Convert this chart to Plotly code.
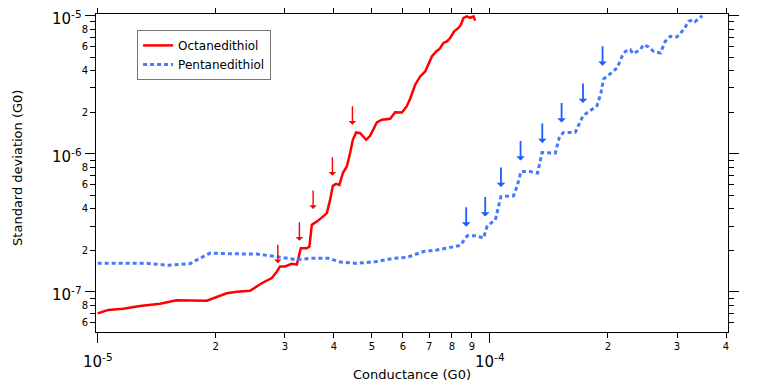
import numpy as np
import plotly.graph_objects as go

# Octanedithiol: conductance (G0) vs standard deviation (G0)
octa_g = [1.00e-5, 1.064e-5, 1.162e-5, 1.282e-5, 1.442e-5, 1.590e-5, 1.897e-5, 2.133e-5,
          2.263e-5, 2.447e-5, 2.620e-5, 2.779e-5, 2.862e-5, 2.917e-5, 3.004e-5, 3.125e-5,
          3.219e-5, 3.295e-5, 3.413e-5, 3.466e-5, 3.515e-5, 3.620e-5, 3.750e-5, 3.839e-5,
          3.914e-5, 3.976e-5, 4.054e-5, 4.133e-5, 4.217e-5, 4.317e-5, 4.401e-5, 4.472e-5,
          4.560e-5, 4.668e-5, 4.835e-5, 4.950e-5, 5.149e-5, 5.303e-5, 5.568e-5, 5.733e-5,
          5.963e-5, 6.134e-5, 6.261e-5, 6.448e-5, 6.640e-5, 6.839e-5, 7.112e-5, 7.295e-5,
          7.437e-5, 7.614e-5, 7.768e-5, 7.920e-5, 8.108e-5, 8.316e-5, 8.433e-5, 8.564e-5,
          8.736e-5, 8.907e-5, 9.082e-5, 9.173e-5]
octa_sd = [7.00e-8, 7.41e-8, 7.57e-8, 7.92e-8, 8.22e-8, 8.71e-8, 8.65e-8, 9.79e-8,
           1.005e-7, 1.02e-7, 1.156e-7, 1.26e-7, 1.40e-7, 1.53e-7, 1.53e-7, 1.60e-7,
           1.58e-7, 2.07e-7, 2.07e-7, 2.13e-7, 3.06e-7, 3.23e-7, 3.51e-7, 3.72e-7,
           4.64e-7, 5.86e-7, 6.06e-7, 5.96e-7, 7.25e-7, 8.09e-7, 1.012e-6, 1.263e-6,
           1.427e-6, 1.408e-6, 1.263e-6, 1.350e-6, 1.686e-6, 1.764e-6, 1.793e-6, 1.998e-6,
           1.992e-6, 2.202e-6, 2.503e-6, 3.162e-6, 3.632e-6, 3.948e-6, 5.072e-6, 5.511e-6,
           5.737e-6, 6.341e-6, 6.512e-6, 6.891e-6, 7.693e-6, 8.147e-6, 8.607e-6, 9.623e-6,
           9.884e-6, 9.62e-6, 9.88e-6, 9.20e-6]

# Pentanedithiol
penta_g = [1.00e-5, 1.162e-5, 1.334e-5, 1.513e-5, 1.720e-5, 1.806e-5, 1.934e-5, 2.176e-5,
           2.545e-5, 2.862e-5, 3.219e-5, 3.480e-5, 3.876e-5, 4.150e-5, 4.578e-5, 5.149e-5,
           5.677e-5, 6.141e-5, 6.769e-5, 7.325e-5, 7.920e-5, 8.400e-5, 8.752e-5, 9.266e-5,
           9.632e-5, 9.842e-5, 1.032e-4, 1.067e-4, 1.149e-4, 1.176e-4, 1.200e-4, 1.267e-4,
           1.323e-4, 1.358e-4, 1.468e-4, 1.505e-4, 1.541e-4, 1.651e-4, 1.727e-4, 1.875e-4,
           1.919e-4, 1.949e-4, 2.027e-4, 2.109e-4, 2.172e-4, 2.214e-4, 2.280e-4, 2.317e-4,
           2.417e-4, 2.464e-4, 2.538e-4, 2.614e-4, 2.719e-4, 2.799e-4, 2.884e-4, 2.999e-4,
           3.118e-4, 3.211e-4, 3.307e-4, 3.340e-4, 3.480e-4]
penta_sd = [1.61e-7, 1.60e-7, 1.61e-7, 1.56e-7, 1.60e-7, 1.73e-7, 1.91e-7, 1.89e-7,
            1.88e-7, 1.80e-7, 1.71e-7, 1.75e-7, 1.75e-7, 1.65e-7, 1.61e-7, 1.66e-7,
            1.75e-7, 1.78e-7, 1.96e-7, 2.01e-7, 2.11e-7, 2.17e-7, 2.55e-7, 2.55e-7,
            2.45e-7, 3.01e-7, 3.32e-7, 4.90e-7, 4.96e-7, 5.96e-7, 7.44e-7, 7.44e-7,
            7.25e-7, 1.022e-6, 1.012e-6, 1.335e-6, 1.427e-6, 1.43e-6, 1.885e-6, 2.228e-6,
            2.754e-6, 3.477e-6, 3.799e-6, 4.178e-6, 5.072e-6, 5.511e-6, 5.670e-6, 5.303e-6,
            5.67e-6, 6.164e-6, 5.932e-6, 5.51e-6, 5.366e-6, 6.512e-6, 7.079e-6, 7.009e-6,
            7.918e-6, 9.093e-6, 9.354e-6, 9.09e-6, 1.0e-5]

# step markers (arrow tips)
octa_step_g = [2.879e-5, 3.268e-5, 3.542e-5, 3.967e-5, 4.461e-5]
octa_step_sd = [1.614e-7, 2.35e-7, 3.98e-7, 6.93e-7, 1.622e-6]
penta_step_g = [8.700e-5, 9.727e-5, 1.067e-4, 1.197e-4, 1.360e-4, 1.523e-4, 1.727e-4, 1.937e-4]
penta_step_sd = [2.97e-7, 3.51e-7, 5.74e-7, 8.94e-7, 1.195e-6, 1.686e-6, 2.330e-6, 4.342e-6]

# ticks
x_ticks = [2e-5, 3e-5, 4e-5, 5e-5, 6e-5, 7e-5, 8e-5, 9e-5, 2e-4, 3e-4, 4e-4]
x_ticktext = ["2", "3", "4", "5", "6", "7", "8", "9", "2", "3", "4"]
x_decades = [1e-5, 1e-4]
y_ticks = [6e-8, 7e-8, 8e-8, 9e-8] + [m * 1e-7 for m in range(2, 10)] + [m * 1e-6 for m in range(2, 10)]
y_ticktext = ["6", "", "8", ""] + ["2", "", "4", "", "6", "", "8", ""] * 2
y_decades = [1e-7, 1e-6, 1e-5]

FONT = "DejaVu Sans"
RED = "#ff0000"
BLUE_LINE = "#4679ff"
BLUE_ARROW = "#1f5cff"

fig = go.Figure()
fig.add_trace(go.Scatter(x=octa_g, y=octa_sd, mode="lines", name="Octanedithiol",
                         line=dict(color=RED, width=2.5)))
fig.add_trace(go.Scatter(x=penta_g, y=penta_sd, mode="lines", name="Pentanedithiol",
                         line=dict(color=BLUE_LINE, width=3, dash="4px,3px")))

annotations = []
for g, sd in zip(octa_step_g, octa_step_sd):
    annotations.append(dict(x=np.log10(g), y=np.log10(sd), xref="x", yref="y", text="",
                            showarrow=True, ax=0, ay=-20, arrowhead=1, arrowsize=0.9,
                            arrowwidth=1.4, arrowcolor=RED))
for g, sd in zip(penta_step_g, penta_step_sd):
    annotations.append(dict(x=np.log10(g), y=np.log10(sd), xref="x", yref="y", text="",
                            showarrow=True, ax=0, ay=-21, arrowhead=1, arrowsize=0.8,
                            arrowwidth=1.8, arrowcolor=BLUE_ARROW))

# decade labels
for v in x_decades:
    annotations.append(dict(x=np.log10(v), xref="x", y=0, yref="paper", yanchor="top",
                            yshift=-17, showarrow=False,
                            text="10<sup>%d</sup>" % round(np.log10(v)),
                            font=dict(family=FONT, size=15, color="black")))
for v in y_decades:
    annotations.append(dict(x=0, xref="paper", xanchor="right", xshift=-12,
                            y=np.log10(v), yref="y", yanchor="middle", yshift=-2,
                            showarrow=False, text="10<sup>%d</sup>" % round(np.log10(v)),
                            font=dict(family=FONT, size=15, color="black")))

# axis titles
annotations.append(dict(x=0.5, xref="paper", y=0, yref="paper", yanchor="middle", yshift=-42,
                        showarrow=False, text="Conductance (G0)",
                        font=dict(family=FONT, size=13, color="black")))
annotations.append(dict(x=0, xref="paper", xanchor="center", xshift=-78, y=0.516, yref="paper",
                        showarrow=False, text="Standard deviation (G0)", textangle=-90,
                        font=dict(family=FONT, size=13, color="black")))

axis_common = dict(type="log", showgrid=False, zeroline=False, showline=True,
                   linecolor="black", linewidth=1, mirror="ticks", ticks="outside",
                   ticklen=5, tickwidth=1, tickcolor="black", tickmode="array",
                   automargin=False,
                   tickfont=dict(family=FONT, size=10, color="black"))

fig.update_xaxes(**axis_common, range=[-5.0043, -3.393], tickvals=x_ticks, ticktext=x_ticktext,
                 minor=dict(tickmode="array", tickvals=x_decades, ticklen=10, tickwidth=1,
                            tickcolor="black", ticks="outside", showgrid=False))
fig.update_yaxes(**axis_common, range=[-7.290, -4.988], tickvals=y_ticks, ticktext=y_ticktext,
                 minor=dict(tickmode="array", tickvals=y_decades, ticklen=10, tickwidth=1,
                            tickcolor="black", ticks="outside", showgrid=False))

# page body has an 8px margin, so the figure is drawn 8px smaller and offset
fig.update_layout(
    width=755, height=376,
    margin=dict(l=88, r=35, t=6, b=52),
    plot_bgcolor="white", paper_bgcolor="white",
    font=dict(family=FONT, size=12, color="black"),
    annotations=annotations,
    legend=dict(x=0.065, y=0.95, xanchor="left", yanchor="top",
                bordercolor="#777777", borderwidth=1, bgcolor="white",
                font=dict(family=FONT, size=12, color="black"),
                tracegroupgap=0, itemwidth=30),
)

fig.write_html("out.html")
